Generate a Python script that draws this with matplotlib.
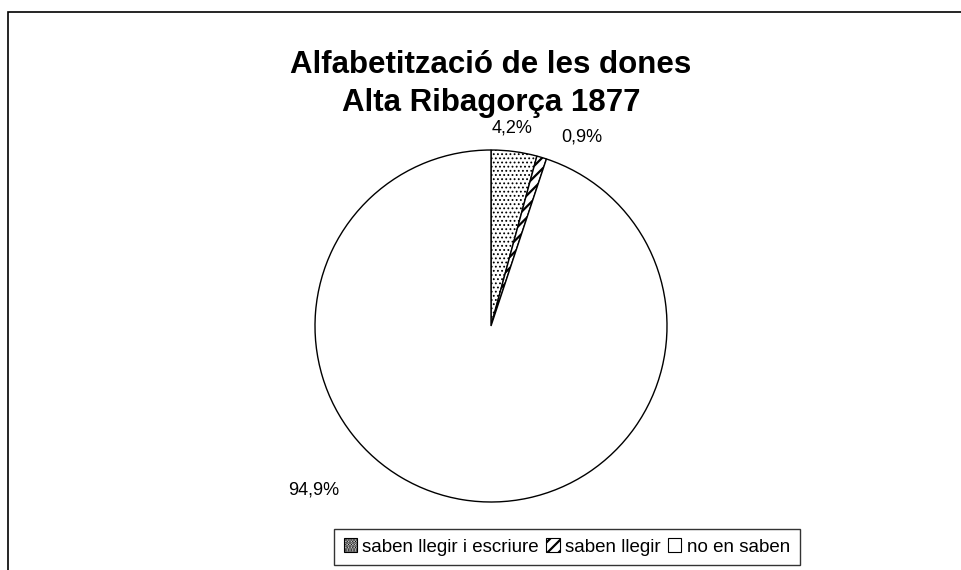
import numpy as np
import matplotlib.pyplot as plt
from matplotlib.patches import Patch, Rectangle

# =========================
# data
# =========================
title = "Alfabetització de les dones\nAlta Ribagorça 1877"
categories = ["saben llegir i escriure", "saben llegir", "no en saben"]
shares = [4.2, 0.9, 94.9]
labels = ["4,2%", "0,9%", "94,9%"]

# style per slice
hatches = ["....", "///", ""]

# label placement (angle offset in degrees, radius factor), hand-tuned
label_pos = [(1.5, 1.13), (-9.0, 1.19), (-38.0, 1.37)]

plt.rcParams["font.family"] = ["Liberation Sans", "DejaVu Sans"]
plt.rcParams["hatch.linewidth"] = 1.6

W, H = 962, 570
fig = plt.figure(figsize=(W / 100, H / 100), dpi=100)

# outer frame (left and top visible)
fig.patches.append(Rectangle((8 / W, -0.1), 1.2, 1.1 - 12 / H,
                             transform=fig.transFigure, fill=False,
                             edgecolor="black", linewidth=1.2))

cx, cy, r = 491, 326, 176
ax = fig.add_axes([(cx - r) / W, (H - cy - r) / H, 2 * r / W, 2 * r / H])

wedges, _ = ax.pie(shares, startangle=90, counterclock=False,
                   colors=["white"] * 3,
                   wedgeprops=dict(edgecolor="black", linewidth=1.0))
for w, h in zip(wedges, hatches):
    w.set_hatch(h)
wedges[0].set_hatch_linewidth(0.8)

for w, lab, (dang, rf) in zip(wedges, labels, label_pos):
    ang = np.deg2rad((w.theta1 + w.theta2) / 2 + dang)
    x, y = rf * np.cos(ang), rf * np.sin(ang)
    ax.text(x, y, lab, ha="center", va="center", fontsize=13)

ax.set_xlim(-1, 1)
ax.set_ylim(-1, 1)
ax.set_aspect("equal")
ax.axis("off")

fig.text(cx / W, 1 - 84 / H, title, ha="center", va="center",
         fontsize=22.5, weight="bold", linespacing=1.35)

handles = [Patch(facecolor="white", edgecolor="black", hatch=h, linewidth=0.8)
           for h in hatches]
handles[0].set_hatch("......")
handles[0].set_hatch_linewidth(0.8)
fig.legend(handles, categories, loc="center", bbox_to_anchor=((337 + 797) / 2 / W, 1 - 547 / H),
           ncol=3, fontsize=13.5, frameon=True, fancybox=False, edgecolor="black",
           handlelength=0.7, handleheight=0.7, handletextpad=0.3, columnspacing=0.4,
           borderpad=0.5)

plt.savefig("out.png", dpi=100)
